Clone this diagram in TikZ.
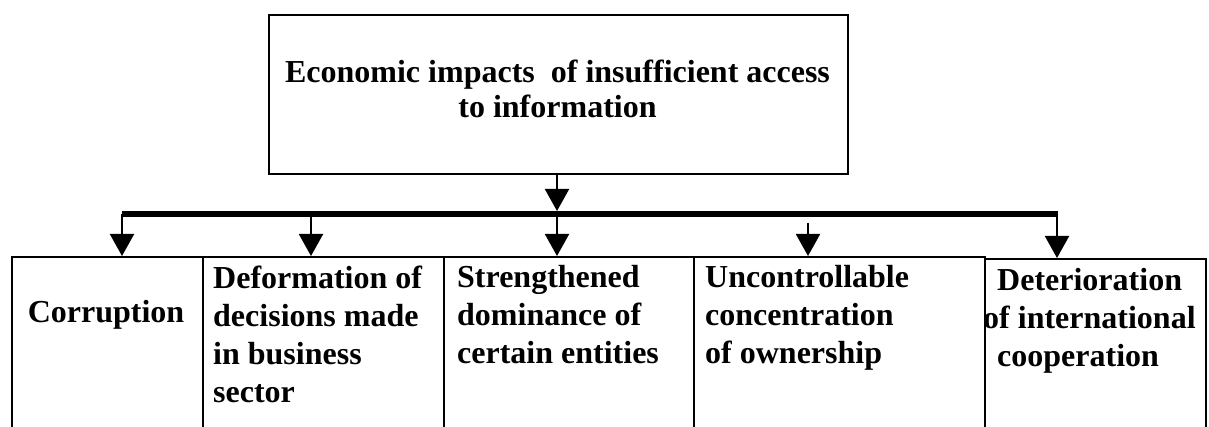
\documentclass[tikz,border=0pt]{standalone}
\usepackage{fontspec}
\setmainfont{Liberation Serif}
\usetikzlibrary{arrows.meta}
\begin{document}
\begin{tikzpicture}[x=1pt,y=-1pt,
  boxst/.style={draw, line width=1.8pt, inner sep=0pt, anchor=north west},
  lbl/.style={font=\bfseries\fontsize{32}{38}\selectfont, inner sep=0pt, align=left, anchor=north west},
  arr/.style={line width=2pt, -{Triangle[width=24pt,length=22pt]}},
  barst/.style={line width=5.5pt}]
\useasboundingbox (0,0) rectangle (1209,427);
\clip (0,0) rectangle (1209,427);
% top box
\node[boxst, minimum width=579pt, minimum height=159pt] (top) at (268,14) {};
\node[font=\bfseries\fontsize{32}{35}\selectfont, inner sep=0pt, align=center] (tt) at (557.5,89)
  {Economic impacts\ \ of insufficient access\\to information};
% bottom boxes
\node[boxst, minimum width=191pt, minimum height=200pt] (b1) at (11,256) {};
\node[boxst, minimum width=241pt, minimum height=200pt] (b2) at (202,256) {};
\node[boxst, minimum width=250pt, minimum height=200pt] (b3) at (443,256) {};
\node[boxst, minimum width=291pt, minimum height=200pt] (b4) at (693,256) {};
\node[boxst, minimum width=221pt, minimum height=200pt] (b5) at (984,258) {};
% texts
\node[lbl, anchor=base] (t1) at (106,323) {Corruption};
\node[lbl] (t2) at (213,265.5) {Deformation of\\decisions made\\in business\\sector};
\node[lbl] (t3) at (457,265.5) {Strengthened\\dominance of\\certain entities};
\node[lbl] (t4) at (705,265.5) {Uncontrollable\\concentration\\of ownership};
\node[lbl] (t5) at (997,268.5) {Deterioration\\\hspace*{-14pt}of international\\cooperation};
% bar and connectors
\coordinate (barL) at (122,214);
\coordinate (barR) at (1057,214);
\coordinate (j2) at (311,214);
\coordinate (j3) at (557,214);
\coordinate (j4) at (808,223);
\draw[barst] (barL) -- ([xshift=1pt]barR);
\draw[arr, shorten >=3pt] (top.south -| j3) -- (j3);
\draw[arr] (barL) -- (barL |- b1.north);
\draw[arr] (j2) -- (j2 |- b2.north);
\draw[arr] (j3) -- (j3 |- b3.north);
\draw[arr] (j4) -- (j4 |- b4.north);
\draw[arr] (barR) -- (barR |- b5.north);
\end{tikzpicture}
\end{document}
